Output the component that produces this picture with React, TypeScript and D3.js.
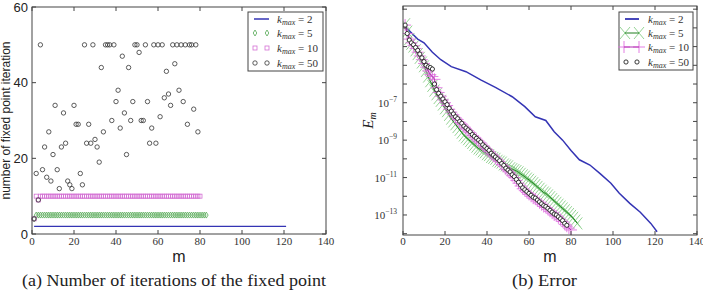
import * as d3 from 'd3';

const W = 703;
const H = 296;

// iteration counts of the fixed point per step m (index 0 -> m = 1)
const iterK50 = [
  4, 16, 9, 50, 17, 23, 15, 27, 14, 21,
  34, 17, 12, 23, 32, 24, 14, 13, 12, 34,
  29, 29, 16, 13, 50, 24, 29, 24, 50, 25,
  23, 19, 44, 27, 50, 50, 50, 30, 50, 35,
  38, 28, 47, 32, 21, 44, 30, 35, 50, 50,
  48, 30, 30, 50, 35, 24, 28, 50, 24, 50,
  31, 50, 36, 43, 37, 34, 50, 45, 50, 38,
  50, 35, 50, 29, 50, 50, 33, 50, 27,
];
const iterK10 = [
  4, 10, 9, 10, 10, 10, 10, 10, 10, 10,
  10, 10, 10, 10, 10, 10, 10, 10, 10, 10,
  10, 10, 10, 10, 10, 10, 10, 10, 10, 10,
  10, 10, 10, 10, 10, 10, 10, 10, 10, 10,
  10, 10, 10, 10, 10, 10, 10, 10, 10, 10,
  10, 10, 10, 10, 10, 10, 10, 10, 10, 10,
  10, 10, 10, 10, 10, 10, 10, 10, 10, 10,
  10, 10, 10, 10, 10, 10, 10, 10, 10, 10,
];
const iterK5 = [
  4, 5, 5, 5, 5, 5, 5, 5, 5, 5,
  5, 5, 5, 5, 5, 5, 5, 5, 5, 5,
  5, 5, 5, 5, 5, 5, 5, 5, 5, 5,
  5, 5, 5, 5, 5, 5, 5, 5, 5, 5,
  5, 5, 5, 5, 5, 5, 5, 5, 5, 5,
  5, 5, 5, 5, 5, 5, 5, 5, 5, 5,
  5, 5, 5, 5, 5, 5, 5, 5, 5, 5,
  5, 5, 5, 5, 5, 5, 5, 5, 5, 5,
  5, 5, 5,
];
// k_max = 2 always stops at 2 iterations, m = 1..121
const iterK2: [number, number][] = [[1, 2], [121, 2]];

// log10 of the error E_m
const errK2Log: [number, number][] = [
  [1, -2.95], [3, -3.15], [7, -3.6], [10, -3.8], [14, -4.3], [18, -4.7],
  [23, -5.07], [30, -5.34], [37, -5.78], [44, -6.18], [52, -6.68], [58, -7.21],
  [63, -7.75], [68, -7.95], [72, -8.55], [76, -9.0], [80, -9.55], [84, -10.05],
  [89, -10.33], [94, -10.8], [99, -11.3], [103, -11.84], [108, -12.38],
  [113, -12.85], [118, -13.45], [121, -13.9],
];
const errK5Log = [
  -2.8, -3.2, -3.6, -3.85, -4.0, -4.2, -4.4, -4.6, -4.85, -5.05,
  -5.3, -5.6, -5.85, -6.1, -6.35, -6.55, -6.75, -6.9, -7.1, -7.3,
  -7.45, -7.65, -7.85, -8.0, -8.15, -8.3, -8.45, -8.6, -8.75, -8.85,
  -8.95, -9.05, -9.15, -9.25, -9.35, -9.45, -9.5, -9.6, -9.65, -9.75,
  -9.8, -9.9, -9.95, -10.0, -10.1, -10.15, -10.2, -10.3, -10.35, -10.4,
  -10.5, -10.55, -10.6, -10.65, -10.72, -10.8, -10.88, -10.95, -11.05, -11.12,
  -11.22, -11.3, -11.4, -11.5, -11.6, -11.7, -11.8, -11.85, -11.95, -12.05,
  -12.15, -12.25, -12.35, -12.45, -12.55, -12.65, -12.75, -12.85, -12.95, -13.05,
  -13.15, -13.3, -13.45,
];
const errK10Log = [
  -2.85, -3.3, -3.6, -3.8, -3.95, -4.1, -4.3, -4.5, -4.7, -4.9,
  -5.1, -5.3, -5.5, -5.6, -5.75, -6.2, -6.45, -6.65, -6.85, -7.0,
  -7.15, -7.35, -7.5, -7.65, -7.8, -7.9, -8.05, -8.15, -8.3, -8.4,
  -8.5, -8.6, -8.75, -8.85, -8.95, -9.05, -9.15, -9.3, -9.4, -9.5,
  -9.6, -9.75, -9.85, -9.95, -10.05, -10.15, -10.3, -10.4, -10.55, -10.65,
  -10.75, -10.9, -11.0, -11.15, -11.3, -11.45, -11.6, -11.7, -11.8, -11.9,
  -12.0, -12.1, -12.15, -12.25, -12.35, -12.45, -12.55, -12.6, -12.7, -12.8,
  -12.9, -13.0, -13.05, -13.15, -13.25, -13.35, -13.5, -13.6, -13.7, -13.8,
];
const errK50Log = [
  -2.85, -3.3, -3.65, -3.8, -3.9, -4.05, -4.2, -4.4, -4.6, -4.8,
  -5.0, -5.08, -5.12, -5.2, -6.0, -6.3, -6.5, -6.65, -6.8, -6.95,
  -7.1, -7.3, -7.45, -7.6, -7.75, -7.85, -8.0, -8.1, -8.25, -8.35,
  -8.45, -8.55, -8.7, -8.8, -8.9, -9.0, -9.1, -9.25, -9.35, -9.45,
  -9.55, -9.7, -9.8, -9.9, -10.0, -10.1, -10.25, -10.35, -10.5, -10.6,
  -10.7, -10.85, -10.95, -11.1, -11.25, -11.4, -11.55, -11.65, -11.75, -11.85,
  -11.95, -12.05, -12.1, -12.2, -12.3, -12.4, -12.5, -12.55, -12.65, -12.75,
  -12.85, -12.95, -13.0, -13.1, -13.2, -13.3, -13.45, -13.55,
];

const mTicks = [0, 20, 40, 60, 80, 100, 120, 140];
const iterTicks = [0, 20, 40, 60];
const errLabelExps = [-7, -9, -11, -13];
const errTickExps = [-14, -13, -12, -11, -10, -9, -8, -7, -6, -5, -4, -3, -2];
const kmaxValues = ['2', '5', '10', '50'];

const SERIF = '"Liberation Serif", "DejaVu Serif", serif';
const SANS = '"Liberation Sans", Arial, sans-serif';
const FRAME = '#444';

const BLUE = '#3434b4';
const GREEN_LINE = '#1f7f1f';
const GREEN_MARK = '#78c878';
const MAG_LINE = '#b02cb0';
const MAG_MARK = '#e070e0';
const PINK_SQ = '#d470d4';
const GREEN_DIA = '#54a854';

const KLabel = ({ x, y, v }: { x: number; y: number; v: string }) => (
  <text x={x} y={y + 4} fontFamily={SERIF} fontSize={11} fill="#333">
    <tspan fontStyle="italic">k</tspan>
    <tspan fontStyle="italic" fontSize={8} dy={2}>max</tspan>
    <tspan dy={-2}> = {v}</tspan>
  </text>
);

const Diamond = ({ x, y }: { x: number; y: number }) => (
  <path d={`M${x},${y - 3} L${x + 1.8},${y} L${x},${y + 3} L${x - 1.8},${y} Z`}
    fill="none" stroke={GREEN_DIA} strokeWidth={0.8} />
);
const Square = ({ x, y }: { x: number; y: number }) => (
  <rect x={x - 2} y={y - 2} width={4} height={4} fill="none" stroke={PINK_SQ} strokeWidth={0.8} />
);
const Cross = ({ x, y }: { x: number; y: number }) => (
  <path d={`M${x - 5},${y - 6} L${x + 5},${y + 6} M${x - 5},${y + 6} L${x + 5},${y - 6}`}
    stroke={GREEN_MARK} strokeWidth={0.8} fill="none" />
);
const Plus = ({ x, y }: { x: number; y: number }) => (
  <path d={`M${x - 6},${y} L${x + 6},${y} M${x},${y - 6} L${x},${y + 6}`}
    stroke={MAG_MARK} strokeWidth={0.9} fill="none" />
);

function IterationsPanel() {
  const x = d3.scaleLinear().domain([0, 140]).range([32, 326]);
  const y = d3.scaleLinear().domain([0, 60]).range([234, 7]);
  const line = d3.line<[number, number]>().x(d => x(d[0])).y(d => y(d[1]));
  const [x0, x1] = x.range();
  const [y0, y1] = y.range();

  return (
    <g>
      <path d={line(iterK2) ?? ''} stroke={BLUE} strokeWidth={1.3} fill="none" />
      {iterK5.map((v, i) => <Diamond key={`d${i}`} x={x(i + 1)} y={y(v)} />)}
      {iterK10.map((v, i) => <Square key={`s${i}`} x={x(i + 1)} y={y(v)} />)}
      {iterK50.map((v, i) => (
        <circle key={`c${i}`} cx={x(i + 1)} cy={y(v)} r={2.2} fill="none" stroke="#333" strokeWidth={0.8} />
      ))}

      <rect x={x0} y={y1} width={x1 - x0} height={y0 - y1} fill="none" stroke={FRAME} strokeWidth={1} />
      {mTicks.map(t => (
        <g key={t}>
          <line x1={x(t)} x2={x(t)} y1={y0} y2={y0 - 4} stroke={FRAME} />
          <line x1={x(t)} x2={x(t)} y1={y1} y2={y1 + 4} stroke={FRAME} />
          <text x={x(t)} y={245} textAnchor="middle" fontFamily={SERIF} fontSize={11} fill="#333">{t}</text>
        </g>
      ))}
      {iterTicks.map(t => (
        <g key={t}>
          <line x1={x0} x2={x0 + 4} y1={y(t)} y2={y(t)} stroke={FRAME} />
          <line x1={x1} x2={x1 - 4} y1={y(t)} y2={y(t)} stroke={FRAME} />
          <text x={28} y={y(t) + 4.5} textAnchor="end" fontFamily={SANS} fontSize={13} fill="#222">{t}</text>
        </g>
      ))}
      <text transform={`translate(10,${(y0 + y1) / 2}) rotate(-90)`} textAnchor="middle"
        fontFamily={SANS} fontSize={12} fill="#222">number of fixed point iteration</text>
      <text x={(x0 + x1) / 2} y={262} textAnchor="middle" fontFamily={SANS} fontSize={16} fill="#222">m</text>

      {/* legend */}
      <rect x={248} y={12} width={75} height={59} fill="#fff" stroke={FRAME} strokeWidth={1} />
      {kmaxValues.map((v, i) => {
        const ly = [19, 33, 48, 63][i];
        return (
          <g key={v}>
            {i === 0 && <line x1={254} x2={269} y1={ly} y2={ly} stroke={BLUE} strokeWidth={1.5} />}
            {i === 1 && <><Diamond x={255} y={ly} /><Diamond x={267} y={ly} /></>}
            {i === 2 && <><Square x={255} y={ly} /><Square x={267} y={ly} /></>}
            {i === 3 && <>
              <circle cx={255} cy={ly} r={2.2} fill="none" stroke="#333" strokeWidth={0.8} />
              <circle cx={267} cy={ly} r={2.2} fill="none" stroke="#333" strokeWidth={0.8} />
            </>}
            <KLabel x={277} y={ly} v={v} />
          </g>
        );
      })}
      <text x={22} y={286} fontFamily={SERIF} fontSize={16} fill="#222" textLength={304}
        lengthAdjust="spacingAndGlyphs">(a) Number of iterations of the fixed point</text>
    </g>
  );
}

function ErrorPanel() {
  const x = d3.scaleLinear().domain([0, 140]).range([403, 697]);
  const y = d3.scaleLog().domain([10 ** -14.07, 10 ** -1.83]).range([235, 6]);
  const line = d3.line<[number, number]>().x(d => x(d[0])).y(d => y(10 ** d[1]));
  const byStep = (arr: number[]) => arr.map((v, i) => [i + 1, v] as [number, number]);
  const [x0, x1] = x.range();
  const [y0, y1] = y.range();
  const k5 = byStep(errK5Log);
  const k10 = byStep(errK10Log);
  const k50 = byStep(errK50Log);

  return (
    <g>
      <defs>
        <clipPath id="errClip">
          <rect x={x0} y={y1} width={x1 - x0} height={y0 - y1} />
        </clipPath>
      </defs>
      <g clipPath="url(#errClip)">
        <path d={line(errK2Log) ?? ''} stroke={BLUE} strokeWidth={1.5} fill="none" />
        {k5.map((d, i) => <Cross key={`x${i}`} x={x(d[0])} y={y(10 ** d[1])} />)}
        <path d={line(k5) ?? ''} stroke={GREEN_LINE} strokeWidth={1} fill="none" />
        {k10.map((d, i) => <Plus key={`p${i}`} x={x(d[0])} y={y(10 ** d[1])} />)}
        <path d={line(k10) ?? ''} stroke={MAG_LINE} strokeWidth={1} fill="none" />
        {k50.map((d, i) => (
          <circle key={`c${i}`} cx={x(d[0])} cy={y(10 ** d[1])} r={2.1} fill="#fff" stroke="#222" strokeWidth={0.9} />
        ))}
      </g>

      <rect x={x0} y={y1} width={x1 - x0} height={y0 - y1} fill="none" stroke={FRAME} strokeWidth={1} />
      {mTicks.map(t => (
        <g key={t}>
          <line x1={x(t)} x2={x(t)} y1={y0} y2={y0 - 4} stroke={FRAME} />
          <line x1={x(t)} x2={x(t)} y1={y1} y2={y1 + 4} stroke={FRAME} />
          <text x={x(t)} y={245} textAnchor="middle" fontFamily={SERIF} fontSize={11} fill="#333">{t}</text>
        </g>
      ))}
      {errTickExps.map(e => (
        <g key={e}>
          <line x1={x0} x2={x0 + 4} y1={y(10 ** e)} y2={y(10 ** e)} stroke={FRAME} />
          <line x1={x1} x2={x1 - 4} y1={y(10 ** e)} y2={y(10 ** e)} stroke={FRAME} />
        </g>
      ))}
      {errLabelExps.map(e => (
        <text key={e} x={397} y={y(10 ** e) + 4} textAnchor="end" fontFamily={SERIF} fontSize={11} fill="#333">
          10<tspan fontSize={7.5} dy={-5}>{`\u2212${-e}`}</tspan>
        </text>
      ))}
      <text transform={`translate(373,${(y0 + y1) / 2}) rotate(-90)`} textAnchor="middle"
        fontFamily={SERIF} fontSize={15} fontStyle="italic" fill="#222">
        E<tspan fontSize={10} dy={3}>m</tspan>
      </text>
      <text x={(x0 + x1) / 2} y={262} textAnchor="middle" fontFamily={SANS} fontSize={16} fill="#222">m</text>

      {/* legend */}
      <rect x={619} y={12} width={74} height={58} fill="#fff" stroke={FRAME} strokeWidth={1} />
      {kmaxValues.map((v, i) => {
        const ly = [19, 33, 47, 62][i];
        return (
          <g key={v}>
            {i === 0 && <line x1={625} x2={639} y1={ly} y2={ly} stroke={BLUE} strokeWidth={1.8} />}
            {i === 1 && <>
              <Cross x={625} y={ly} /><Cross x={639} y={ly} />
              <line x1={625} x2={639} y1={ly} y2={ly} stroke={GREEN_LINE} strokeWidth={1} />
            </>}
            {i === 2 && <>
              <Plus x={624} y={ly} /><Plus x={639} y={ly} />
              <line x1={624} x2={639} y1={ly} y2={ly} stroke={MAG_LINE} strokeWidth={1} />
            </>}
            {i === 3 && <>
              <circle cx={626} cy={ly} r={2.1} fill="#fff" stroke="#222" strokeWidth={0.9} />
              <circle cx={637} cy={ly} r={2.1} fill="#fff" stroke="#222" strokeWidth={0.9} />
            </>}
            <KLabel x={648} y={ly} v={v} />
          </g>
        );
      })}
      <text x={512} y={286} fontFamily={SERIF} fontSize={16} fill="#222" textLength={65}
        lengthAdjust="spacingAndGlyphs">(b) Error</text>
    </g>
  );
}

export default function App() {
  return (
    <svg width={W} height={H} viewBox={`0 0 ${W} ${H}`}
      style={{ position: 'absolute', left: 0, top: 0, background: '#fff' }}>
      <rect width={W} height={H} fill="#fff" />
      <IterationsPanel />
      <ErrorPanel />
    </svg>
  );
}
